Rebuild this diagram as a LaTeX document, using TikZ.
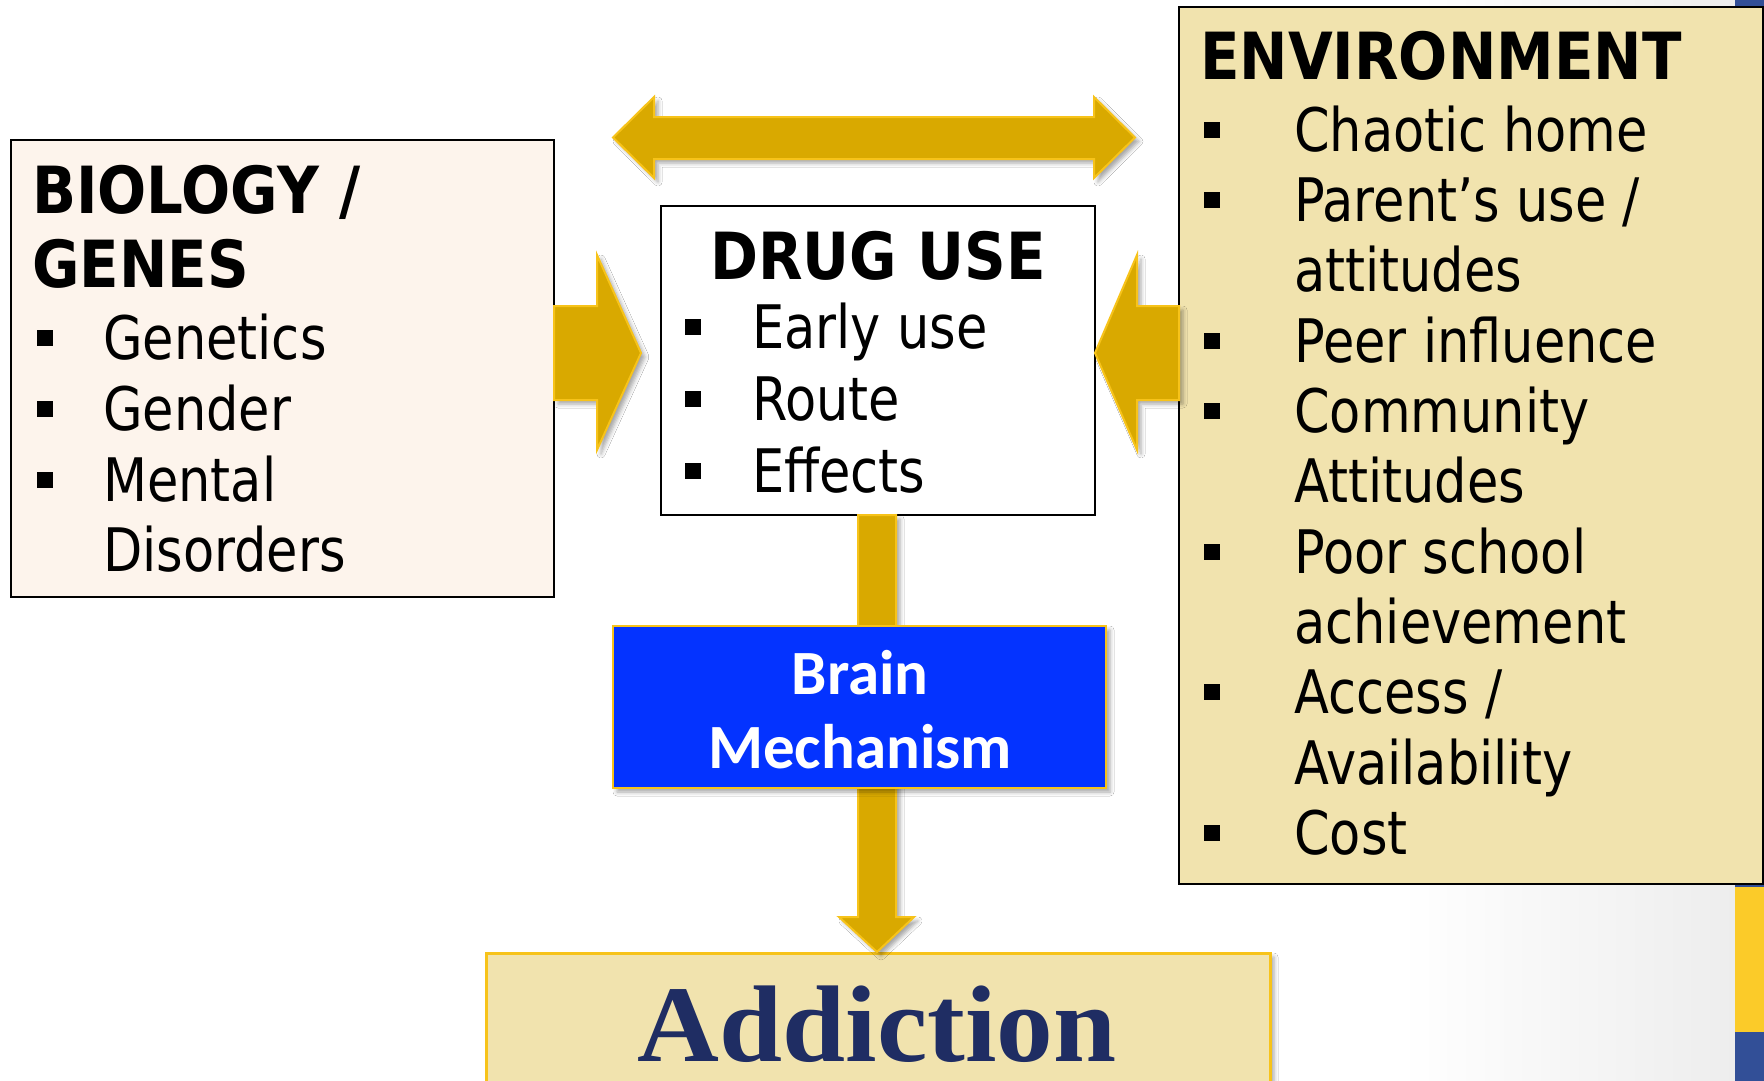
\documentclass[tikz,border=0pt]{standalone}
\usepackage{fontspec}
\usetikzlibrary{shadows.blur}
\newfontfamily\tahreg[FakeStretch=0.85]{DejaVu Sans}
\newfontfamily\tahbold[FakeStretch=0.89]{DejaVu Sans}
\newfontfamily\carl{Carlito}
\newfontfamily\libser[FakeStretch=1.04]{Liberation Serif}
\definecolor{biofill}{HTML}{FDF4EC}
\definecolor{envfill}{HTML}{F1E3AE}
\definecolor{arrgold}{HTML}{D9A900}
\definecolor{arredge}{HTML}{F7C31A}
\definecolor{brainblue}{HTML}{0433FF}
\definecolor{addnavy}{HTML}{1F2D63}
\definecolor{stripyellow}{HTML}{FBCB29}
\definecolor{stripblue}{HTML}{324F97}
\newcommand\myitem[5]{\node[bul] (#1b) at (#2,#4-21) {}; \node[itemtxt] (#1) at (#3,#4) {#5};}
\newcommand\mycont[4]{\node[itemtxt] (#1) at (#2,#3) {#4};}
\begin{document}
\begin{tikzpicture}[x=1pt,y=-1pt,
  box/.style={line width=2.5pt, inner sep=0pt, outer sep=0pt, anchor=north west},
  itemtxt/.style={anchor=base west, inner sep=0pt, font=\tahreg\fontsize{60}{70}\selectfont},
  titletxt/.style={inner sep=0pt, font=\tahbold\bfseries\fontsize{65}{74}\selectfont},
  bul/.style={fill=black, minimum size=16pt, inner sep=0pt, outer sep=0pt},
  shad/.style={blur shadow={shadow xshift=4pt, shadow yshift=-4pt, shadow blur radius=4pt, shadow opacity=35}},
  barrow/.style={fill=arrgold, draw=arredge, line width=2pt, line join=miter, shad},
  braintxt/.style={anchor=base, inner sep=0pt, text=white, font=\carl\bfseries\fontsize{63}{74}\selectfont}
]
\useasboundingbox (0,0) rectangle (1764,1081);
\fill[white] (0,0) rectangle (1764,1081);
\shade[left color=white, right color=black!7] (1400,0) rectangle (1735,1081);
% right edge strip
\fill[stripblue] (1735,0) rectangle (1764,1081);
\fill[stripyellow] (1735,887) rectangle (1764,1032);

% boxes
\node[box, draw=black, fill=biofill, minimum width=543pt, minimum height=457pt] (bio) at (11,140) {};
\node[box, draw=black, fill=envfill, minimum width=584pt, minimum height=877pt] (env) at (1179,7) {};
\node[box, draw=black, fill=white, minimum width=434pt, minimum height=309pt] (drug) at (661,206) {};
\node[box, draw=arredge, line width=3pt, fill=envfill, minimum width=784pt, minimum height=150pt, shad] (add) at (486,953) {};

% block arrows
\draw[barrow] (554,306) -- (597,306) -- (597,255) -- (641,353) -- (597,450) -- (597,400) -- (554,400) -- cycle;
\draw[barrow] (1179,306) -- (1137,306) -- (1137,255) -- (1095,353) -- (1137,450) -- (1137,400) -- (1179,400) -- cycle;
\draw[barrow] (613,137.5) -- (654,97) -- (654,117) -- (1094,117) -- (1094,97) -- (1135,137.5) -- (1094,178) -- (1094,159) -- (654,159) -- (654,178) -- cycle;
\draw[barrow] (858,515) -- (896,515) -- (896,917) -- (914,917) -- (877,952) -- (839,917) -- (858,917) -- cycle;

% brain box
\node[box, draw=arredge, fill=brainblue, minimum width=493pt, minimum height=162pt, shad] (brain) at (613,626) {};
\node[braintxt] (brain1) at (860,694) {Brain};
\node[braintxt] (brain2) at (860,768) {Mechanism};

% addiction text
\node[anchor=base, inner sep=0pt, text=addnavy, font=\libser\bfseries\fontsize{109}{120}\selectfont] (addt) at (877,1061) {Addiction};

% biology text
\node[titletxt, anchor=base west] (bio1) at (32,213) {BIOLOGY /};
\node[titletxt, anchor=base west] (bio2) at (32,287) {GENES};
\myitem{bg1}{44.5}{103}{359}{Genetics}
\myitem{bg2}{44.5}{103}{430}{Gender}
\myitem{bg3}{44.5}{103}{501}{Mental}
\mycont{bg4}{103}{571}{Disorders}

% drug use text
\node[titletxt, anchor=base] (drug1) at (878,279) {DRUG USE};
\myitem{du1}{693}{752}{348}{Early use}
\myitem{du2}{693}{752}{420}{Route}
\myitem{du3}{693}{752}{492}{Effects}

% environment text
\node[titletxt, anchor=base west] (env0) at (1200,80) {ENVIRONMENT};
\myitem{en1}{1211.5}{1294}{151}{Chaotic home}
\myitem{en2}{1211.5}{1294}{221}{Parent’s use /}
\mycont{en3}{1294}{291}{attitudes}
\myitem{en4}{1211.5}{1294}{362}{Peer influence}
\myitem{en5}{1211.5}{1294}{432}{Community}
\mycont{en6}{1294}{502}{Attitudes}
\myitem{en7}{1211.5}{1294}{573}{Poor school}
\mycont{en8}{1294}{643}{achievement}
\myitem{en9}{1211.5}{1294}{713}{Access /}
\mycont{en10}{1294}{784}{Availability}
\myitem{en11}{1211.5}{1294}{854}{Cost}
\end{tikzpicture}
\end{document}
